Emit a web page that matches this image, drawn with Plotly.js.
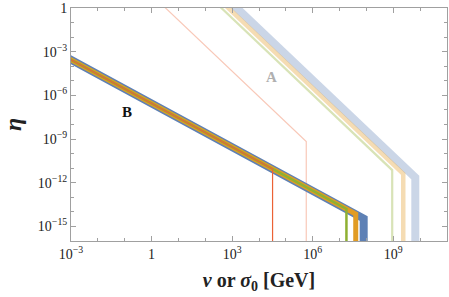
<!DOCTYPE html>
<html>
<head>
<meta charset="utf-8">
<script src="https://cdn.plot.ly/plotly-3.0.1.min.js"></script>
<style>html,body{margin:0;padding:0;background:#fff;}#chart{width:449px;height:297px;}</style>
</head>
<body>
<div id="chart"></div>
<script>
// ---- Data ----
// Family B (eta ~ 1/v), each line ends at a cut-off and drops vertically
const bRedV    = [5.0e-4, 3.2e4, 3.2e4];
const bRedEta  = [5.6e-4, 8.9e-12, 1e-20];
const bGreenV  = [5.0e-4, 1.8e7, 1.8e7];
const bGreenEta= [5.6e-4, 1.6e-14, 1e-20];
const bOrangeV = [5.0e-4, 4.0e7, 4.0e7];
const bOrangeEta=[5.6e-4, 7.1e-15, 1e-20];
const bBlueV   = [5.0e-4, 7.9e7, 7.9e7];
const bBlueEta = [5.6e-4, 3.5e-15, 1e-20];

// Family A (steeper, light colours)
const aRedV    = [0.89, 5.75e5, 5.75e5];
const aRedEta  = [10, 6.8e-10, 1e-20];
const aGreenV  = [107, 9.1e8, 9.1e8];
const aGreenEta= [10, 7.4e-12, 1e-20];
const aOrangeV = [193, 2.35e9, 2.35e9];
const aOrangeEta=[10, 4.0e-12, 1e-20];
const aBlueV   = [400, 6.6e9, 6.6e9];
const aBlueEta = [10, 2.3e-12, 1e-20];

const xTickVals = [1e-3, 1, 1e3, 1e6, 1e9];
const xTickText = ['10<sup>\u22123</sup>', '1', '10<sup>3</sup>', '10<sup>6</sup>', '10<sup>9</sup>'];
const yTickVals = [1e-15, 1e-12, 1e-9, 1e-6, 1e-3, 1];
const yTickText = ['10<sup>\u221215</sup>', '10<sup>\u221212</sup>', '10<sup>\u22129</sup>', '10<sup>\u22126</sup>', '10<sup>\u22123</sup>', '1'];
const xMinor = [1e-2,1e-1,10,100,1e4,1e5,1e7,1e8,1e10,1e11];
const yMinor = [1e-14,1e-13,1e-11,1e-10,1e-8,1e-7,1e-5,1e-4,1e-2,1e-1];

const labelA = {v: 2.8e4, eta: 1.7e-5};
const labelB = {v: 0.126, eta: 7.2e-8};

const C = {blue:'#5E81B5', orange:'#E19C24', green:'#8FB032', red:'#EB6235'};

function tr(x, y, color, width, opacity) {
  return {x:x, y:y, type:'scatter', mode:'lines', opacity:opacity,
    line:{color:color, width:width}, hoverinfo:'skip', showlegend:false};
}

const data = [
  tr(aBlueV, aBlueEta, C.blue, 8, 0.32),
  tr(aOrangeV, aOrangeEta, C.orange, 4.5, 0.35),
  tr(aGreenV, aGreenEta, C.green, 2.2, 0.35),
  tr(aRedV, aRedEta, C.red, 1.2, 0.35),
  tr(bBlueV, bBlueEta, C.blue, 8, 1),
  tr(bOrangeV, bOrangeEta, C.orange, 5, 1),
  tr(bGreenV, bGreenEta, C.green, 2.5, 1),
  tr(bRedV, bRedEta, C.red, 1.2, 1)
];

const axisCommon = {
  type:'log', showgrid:false, zeroline:false, showline:true, mirror:'allticks',
  linecolor:'#a0a0a0', linewidth:1, ticks:'inside', ticklen:5, tickcolor:'#a0a0a0',
  tickfont:{family:'Liberation Serif, serif', size:14, color:'#222'}
};

const layout = {
  width:449, height:297,
  margin:{l:71, r:2, t:8, b:56},
  paper_bgcolor:'#fff', plot_bgcolor:'#fff',
  xaxis: Object.assign({}, axisCommon, {
    range:[-3, 11], tickmode:'array', tickvals:xTickVals, ticktext:xTickText,
    minor:{tickmode:'array', tickvals:xMinor, ticks:'inside', ticklen:3, tickcolor:'#a0a0a0'},
    title:{text:'<b><i>v</i> or <i>\u03c3</i><sub>0</sub> [GeV]</b>', font:{family:'Liberation Serif, serif', size:20, color:'#222'}, standoff:12}
  }),
  yaxis: Object.assign({}, axisCommon, {
    range:[-16, 0], tickmode:'array', tickvals:yTickVals, ticktext:yTickText,
    minor:{tickmode:'array', tickvals:yMinor, ticks:'inside', ticklen:3, tickcolor:'#a0a0a0'},
    title:{text:'<b><i>\u03b7</i></b>', font:{family:'Liberation Serif, serif', size:24, color:'#222'}, standoff:10}
  }),
  annotations:[
    {x:Math.log10(labelA.v), y:Math.log10(labelA.eta), xref:'x', yref:'y', text:'<b>A</b>', showarrow:false,
     font:{family:'Liberation Serif, serif', size:15, color:'#b0b0b0'}},
    {x:Math.log10(labelB.v), y:Math.log10(labelB.eta), xref:'x', yref:'y', text:'<b>B</b>', showarrow:false,
     font:{family:'Liberation Serif, serif', size:15, color:'#111'}}
  ]
};

Plotly.newPlot('chart', data, layout, {displayModeBar:false, staticPlot:true});
</script>
</body>
</html>
